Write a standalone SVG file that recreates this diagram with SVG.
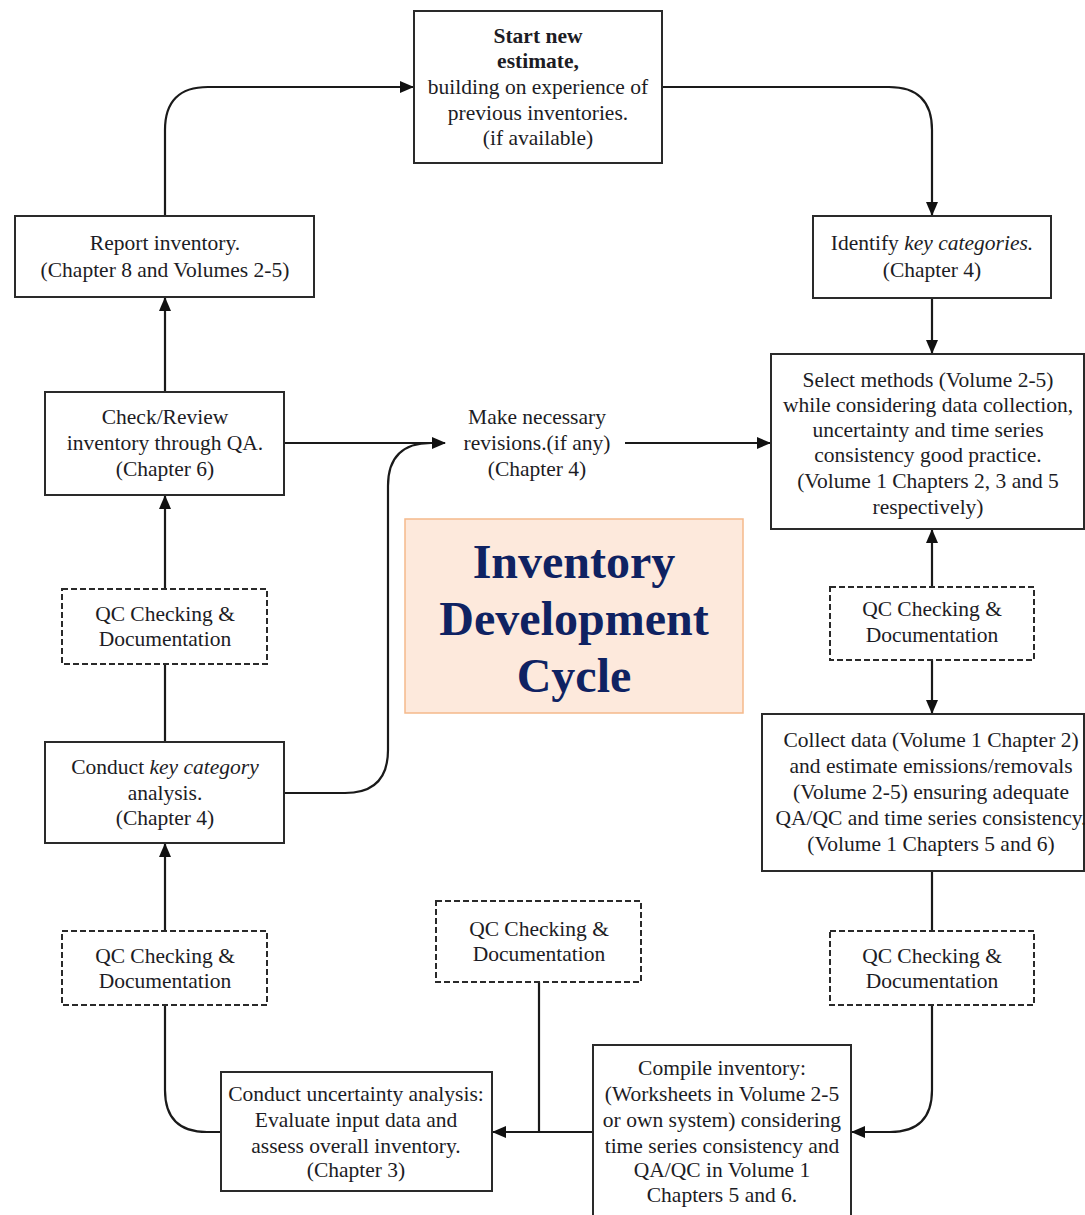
<svg xmlns="http://www.w3.org/2000/svg" width="1085" height="1215" viewBox="0 0 1085 1215">
<defs>
<style>
.box{fill:#fff;stroke:#2a2a2a;stroke-width:2}
.qc{fill:#fff;stroke:#2a2a2a;stroke-width:2;stroke-dasharray:6 3}
.t{font-family:"Liberation Serif","Times New Roman",serif;font-size:21.5px;fill:#1c1c24;text-anchor:middle}
.b{font-weight:bold}
.i{font-style:italic}
.ttl{font-family:"Liberation Serif","Times New Roman",serif;font-size:48px;font-weight:bold;fill:#0f2262;text-anchor:middle}
.c{fill:none;stroke:#1a1a1a;stroke-width:2.2}
</style>
<marker id="ah" viewBox="0 0 14 12" refX="13" refY="6" markerWidth="14" markerHeight="12" markerUnits="userSpaceOnUse" orient="auto">
<path d="M0,0 L14,6 L0,12 Z" fill="#111"/>
</marker>
</defs>
<rect width="1085" height="1215" fill="#fff"/>

<g id="connectors">
<path class="c" d="M165,216 V130 Q165,87 208,87 H413" marker-end="url(#ah)"/>
<path class="c" d="M662,87 H889 Q932,87 932,130 V215" marker-end="url(#ah)"/>
<path class="c" d="M932,298 V353" marker-end="url(#ah)"/>
<path class="c" d="M165,392 V298" marker-end="url(#ah)"/>
<path class="c" d="M165,589 V496" marker-end="url(#ah)"/>
<path class="c" d="M165,742 V664"/>
<path class="c" d="M165,931 V844" marker-end="url(#ah)"/>
<path class="c" d="M221,1132 H207 Q165,1132 165,1090 V1005"/>
<path class="c" d="M593,1132 H493" marker-end="url(#ah)"/>
<path class="c" d="M539,982 V1132"/>
<path class="c" d="M932,1005 V1090 Q932,1132 890,1132 H852" marker-end="url(#ah)"/>
<path class="c" d="M932,871 V931"/>
<path class="c" d="M932,587 V530" marker-end="url(#ah)"/>
<path class="c" d="M932,660 V713" marker-end="url(#ah)"/>
<path class="c" d="M284,443 H445" marker-end="url(#ah)"/>
<path class="c" d="M284,793 H345 Q388,793 388,750 V486 Q388,443 431,443"/>
<path class="c" d="M625,443 H770" marker-end="url(#ah)"/>
</g>

<g id="start">
<rect class="box" x="414" y="11" width="248" height="152"/>
<text class="t b" x="538" y="43">Start new</text>
<text class="t b" x="538" y="68">estimate,</text>
<text class="t" x="538" y="94">building on experience of</text>
<text class="t" x="538" y="120">previous inventories.</text>
<text class="t" x="538" y="145">(if available)</text>
</g>

<g id="report">
<rect class="box" x="15" y="216" width="299" height="81"/>
<text class="t" x="165" y="250">Report inventory.</text>
<text class="t" x="165" y="277">(Chapter 8 and Volumes 2-5)</text>
</g>

<g id="identify">
<rect class="box" x="813" y="216" width="238" height="82"/>
<text class="t" x="932" y="250">Identify <tspan class="i">key categories.</tspan></text>
<text class="t" x="932" y="277">(Chapter 4)</text>
</g>

<g id="check">
<rect class="box" x="45" y="392" width="239" height="103"/>
<text class="t" x="165" y="424">Check/Review</text>
<text class="t" x="165" y="450">inventory through QA.</text>
<text class="t" x="165" y="476">(Chapter 6)</text>
</g>

<g id="revisions">
<text class="t" x="537" y="424">Make necessary</text>
<text class="t" x="537" y="450">revisions.(if any)</text>
<text class="t" x="537" y="476">(Chapter 4)</text>
</g>

<g id="select">
<rect class="box" x="771" y="354" width="313" height="175"/>
<text class="t" x="928" y="387">Select methods (Volume 2-5)</text>
<text class="t" x="928" y="412">while considering data collection,</text>
<text class="t" x="928" y="437">uncertainty and time series</text>
<text class="t" x="928" y="462">consistency good practice.</text>
<text class="t" x="928" y="488">(Volume 1 Chapters 2, 3 and 5</text>
<text class="t" x="928" y="514">respectively)</text>
</g>

<g id="title">
<rect x="405" y="519" width="338" height="194" fill="#fde9dc" stroke="#f5b98b" stroke-width="1.5"/>
<text class="ttl" x="574" y="578">Inventory</text>
<text class="ttl" x="574" y="635">Development</text>
<text class="ttl" x="574" y="692">Cycle</text>
</g>

<g id="qc-left-1">
<rect class="qc" x="62" y="589" width="205" height="75"/>
<text class="t" x="165" y="621">QC Checking &amp;</text>
<text class="t" x="165" y="646">Documentation</text>
</g>

<g id="qc-right-1">
<rect class="qc" x="830" y="587" width="204" height="73"/>
<text class="t" x="932" y="616">QC Checking &amp;</text>
<text class="t" x="932" y="642">Documentation</text>
</g>

<g id="keycat">
<rect class="box" x="45" y="742" width="239" height="101"/>
<text class="t" x="165" y="774">Conduct <tspan class="i">key category</tspan></text>
<text class="t" x="165" y="800">analysis.</text>
<text class="t" x="165" y="825">(Chapter 4)</text>
</g>

<g id="collect">
<rect class="box" x="762" y="714" width="322" height="157"/>
<text class="t" x="931" y="747">Collect data (Volume 1 Chapter 2)</text>
<text class="t" x="931" y="773">and estimate emissions/removals</text>
<text class="t" x="931" y="799">(Volume 2-5) ensuring adequate</text>
<text class="t" x="931" y="825">QA/QC and time series consistency.</text>
<text class="t" x="931" y="851">(Volume 1 Chapters 5 and 6)</text>
</g>

<g id="qc-left-2">
<rect class="qc" x="62" y="931" width="205" height="74"/>
<text class="t" x="165" y="963">QC Checking &amp;</text>
<text class="t" x="165" y="988">Documentation</text>
</g>

<g id="qc-mid">
<rect class="qc" x="436" y="901" width="205" height="81"/>
<text class="t" x="539" y="936">QC Checking &amp;</text>
<text class="t" x="539" y="961">Documentation</text>
</g>

<g id="qc-right-2">
<rect class="qc" x="830" y="931" width="204" height="74"/>
<text class="t" x="932" y="963">QC Checking &amp;</text>
<text class="t" x="932" y="988">Documentation</text>
</g>

<g id="uncertainty">
<rect class="box" x="221" y="1072" width="271" height="119"/>
<text class="t" x="356" y="1101">Conduct uncertainty analysis:</text>
<text class="t" x="356" y="1127">Evaluate input data and</text>
<text class="t" x="356" y="1153">assess overall inventory.</text>
<text class="t" x="356" y="1177">(Chapter 3)</text>
</g>

<g id="compile">
<rect class="box" x="593" y="1045" width="258" height="180"/>
<text class="t" x="722" y="1075">Compile inventory:</text>
<text class="t" x="722" y="1101">(Worksheets in Volume 2-5</text>
<text class="t" x="722" y="1127">or own system) considering</text>
<text class="t" x="722" y="1153">time series consistency and</text>
<text class="t" x="722" y="1177">QA/QC in Volume 1</text>
<text class="t" x="722" y="1202">Chapters 5 and 6.</text>
</g>
</svg>
